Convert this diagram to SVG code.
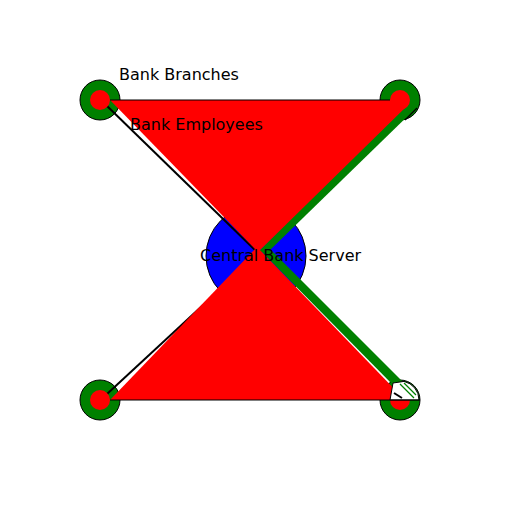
<svg xmlns="http://www.w3.org/2000/svg" width="512" height="512" viewBox="0 0 512 512">
<style>
.ring{fill:#008000;stroke:#000;stroke-width:1}
.core{fill:#ff0000}
.tri{fill:#ff0000}
.band{fill:#008000}
.edge{stroke:#000;stroke-width:1.2;fill:none}
.conn{stroke:#000;stroke-width:2;fill:none}
.hatch{stroke:#008000;stroke-width:1.2;fill:none}
text{font-family:"DejaVu Sans",sans-serif;font-size:16px;fill:#000}
</style>
<rect width="512" height="512" fill="#fff"/>
<g id="server"><circle cx="256" cy="256" r="50" fill="#0000ff" stroke="#000" stroke-width="1"/></g>
<g id="branch-tl"><circle class="ring" cx="100" cy="100" r="20"/></g>
<g id="branch-tr"><circle class="ring" cx="400" cy="100" r="20"/></g>
<g id="branch-bl"><circle class="ring" cx="100" cy="400" r="20"/></g>
<g id="branch-br"><circle class="ring" cx="400" cy="400" r="20"/></g>
<g id="connectors">
 <line class="conn" x1="106" y1="105" x2="255" y2="250"/>
 <line class="conn" x1="107" y1="394" x2="255" y2="257"/>
 <polygon class="band" points="404,104 416,108 268,252 258,252"/>
 <line class="edge" x1="417" y1="108" x2="405" y2="120"/>
 <polygon class="band" points="260,250 271,250 403,382 392,384"/>
</g>
<g id="employees">
 <polygon class="tri" points="110,100 400,100 408,105 258,252"/>
 <polygon class="tri" points="110,400 257,247 405,400"/>
</g>
<g id="cores">
 <circle class="core" cx="100" cy="100" r="10"/>
 <circle class="core" cx="400" cy="100" r="10"/>
 <circle class="core" cx="100" cy="400" r="10"/>
 <circle class="core" cx="400" cy="400" r="10"/>
</g>
<g id="br-overlay">
 <path d="M390,400 L419,400 A19,19 0 0 0 404,381.4 L393,383 Z" fill="#fff" stroke="#000" stroke-width="1"/>
 <line class="hatch" x1="400" y1="384" x2="414" y2="398"/>
 <line class="hatch" x1="404" y1="383" x2="416" y2="395"/>
 <line x1="394" y1="393" x2="402" y2="398" stroke="#000" stroke-width="2"/>
</g>
<line class="edge" x1="110" y1="100" x2="390" y2="100"/>
<line class="edge" x1="110" y1="400" x2="420" y2="400"/>
<text x="119" y="80">Bank Branches</text>
<text x="130" y="130">Bank Employees</text>
<text x="200" y="261">Central Bank Server</text>
</svg>
